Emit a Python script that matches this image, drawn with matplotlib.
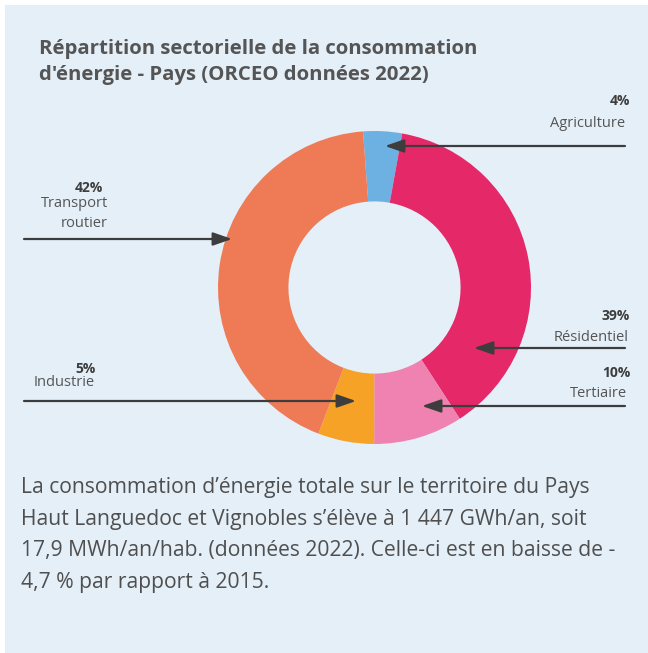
import matplotlib.pyplot as plt
from matplotlib.patches import Rectangle

# Données (parts, étiquettes affichées)
secteurs = ['Agriculture', 'Résidentiel', 'Tertiaire', 'Industrie', 'Transport routier']
parts = [4.0, 38.0, 9.2, 5.8, 43.0]
etiquettes = ['4%', '39%', '10%', '5%', '42%']
couleurs = ['#6db1e2', '#e52868', '#ef82b1', '#f6a226', '#ee7b56']

titre = ['Répartition sectorielle de la consommation',
         "d'énergie - Pays (ORCEO données 2022)"]
texte = ['La consommation d’énergie totale sur le territoire du Pays',
         'Haut Languedoc et Vignobles s’élève à 1 447 GWh/an, soit',
         '17,9 MWh/an/hab. (données 2022). Celle-ci est en baisse de -',
         '4,7 % par rapport à 2015.']

W, H = 648, 653
fond = '#e4eff8'
gris = '#555555'
fonce = '#3d3d3d'
plt.rcParams['font.family'] = ['Open Sans', 'DejaVu Sans']

fig = plt.figure(figsize=(W / 100, H / 100), dpi=100)
fig.patch.set_facecolor('white')

# fond du panneau
bg = fig.add_axes([0, 0, 1, 1], zorder=0)
bg.set_xlim(0, W)
bg.set_ylim(H, 0)
bg.axis('off')
bg.add_patch(Rectangle((5, 5), W, H, color=fond, lw=0))

# anneau
cx, cy, R = 374.5, 287.5, 156.5
ax = fig.add_axes([(cx - R) / W, 1 - (cy + R) / H, 2 * R / W, 2 * R / H], zorder=1)
ax.pie(parts, colors=couleurs, startangle=94.2, counterclock=False,
       wedgeprops=dict(width=0.45, edgecolor='none'))
ax.set_xlim(-1, 1)
ax.set_ylim(-1, 1)
ax.set_aspect('equal')
ax.axis('off')

# textes et flèches
ov = fig.add_axes([0, 0, 1, 1], zorder=2)
ov.set_xlim(0, W)
ov.set_ylim(H, 0)
ov.axis('off')
ov.patch.set_alpha(0)

ov.text(39, 54, titre[0], fontsize=14.7, fontweight='bold', color=gris, va='baseline')
ov.text(39, 80, titre[1], fontsize=14.7, fontweight='bold', color=gris, va='baseline')

for i, ligne in enumerate(texte):
    ov.text(21, 493 + i * 31.7, ligne, fontsize=15.2, color='#4f4f4f', va='baseline')

fl = dict(arrowstyle='-|>,head_length=1.15,head_width=0.4', mutation_scale=10,
          color=fonce, lw=1.6, shrinkA=0, shrinkB=0)
# (départ, pointe, y)
fleches = {'Agriculture': (625, 385, 146),
           'Résidentiel': (625, 474, 348),
           'Tertiaire': (625, 422, 406),
           'Industrie': (24, 356, 401),
           'Transport routier': (24, 232, 239)}
for s in secteurs:
    x0, x1, y = fleches[s]
    ov.annotate('', xy=(x1, y), xytext=(x0, y), arrowprops=fl)

pct = dict(fontsize=10, fontweight='bold', color=fonce, va='baseline', ha='right')
lab = dict(fontsize=10.5, color=gris, va='baseline', ha='right')

ov.text(630, 105, etiquettes[0], **pct)
ov.text(625, 126.7, 'Agriculture', **lab)
ov.text(630, 320, etiquettes[1], **pct)
ov.text(629, 340.7, 'Résidentiel', **lab)
ov.text(630, 377, etiquettes[2], **pct)
ov.text(627, 396.7, 'Tertiaire', **lab)
ov.text(96, 373.3, etiquettes[3], **pct)
ov.text(95, 386, 'Industrie', **lab)
ov.text(103, 192.3, etiquettes[4], **pct)
ov.text(108, 207.3, 'Transport', **lab)
ov.text(108, 227.3, 'routier', **lab)

fig.savefig('out.png', dpi=100, facecolor='white')
